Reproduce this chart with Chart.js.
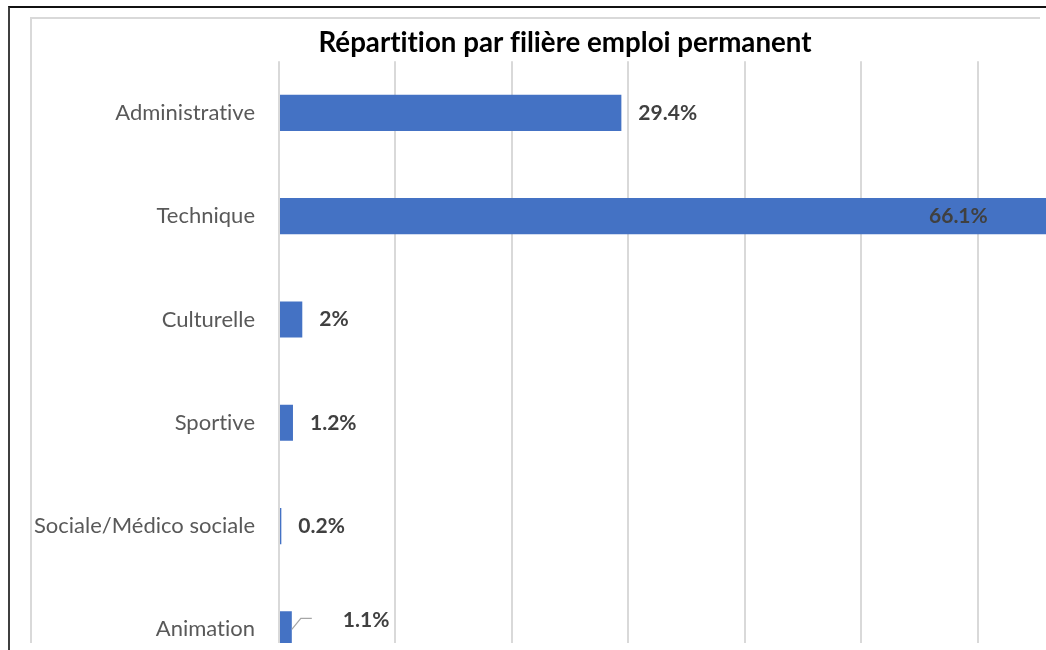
<!DOCTYPE html>
<html lang="fr">
<head>
<meta charset="utf-8">
<title>Répartition par filière emploi permanent</title>
<script src="https://cdn.jsdelivr.net/npm/chart.js@4/dist/chart.umd.min.js"></script>
<style>
  html, body { margin: 0; padding: 0; background: #fff; }
  body { width: 1046px; height: 650px; overflow: hidden; position: relative; }
  #outer {
    position: absolute; left: 8px; top: 6px; right: -20px; bottom: -20px;
    border-left: 2px solid #3f3f3f; border-top: 2px solid #111;
  }
  #clip {
    position: absolute; left: 10px; top: 8px; width: 1036px; height: 635px;
    overflow: hidden;
  }
  #inner {
    position: absolute; left: 20px; top: 9px; width: 1008px; height: 700px;
    border-left: 2px solid #d9d9d9; border-top: 2px solid #d9d9d9;
  }
  #chart { position: absolute; left: -10px; top: -8px; font-variant-ligatures: none; }
</style>
</head>
<body>
<div id="outer"></div>
<div id="clip">
  <div id="inner"></div>
  <canvas id="chart" width="1100" height="690"></canvas>
</div>
<script>
// Filières and their share of permanent jobs (%)
const categories = ['Administrative', 'Technique', 'Culturelle', 'Sportive', 'Sociale/Médico sociale', 'Animation'];
const shares = [29.4, 66.1, 2, 1.2, 0.2, 1.1];
const valueLabels = shares.map(v => v.toString() + '%');
const gridSteps = [0, 10, 20, 30, 40, 50, 60, 70];

const FONT = 'Lato, "Open Sans", sans-serif';

// Plain glyphs, no "ti"/"fi" ligatures
const noLigatures = {
  id: 'noLigatures',
  beforeDraw(chart) {
    if ('textRendering' in chart.ctx) chart.ctx.textRendering = 'optimizeSpeed';
  }
};

// Writes the percentage next to each bar; a few labels are placed by hand
const barLabels = {
  id: 'barLabels',
  afterDatasetsDraw(chart, args, opts) {
    const ctx = chart.ctx;
    const meta = chart.getDatasetMeta(0);
    ctx.save();
    ctx.font = opts.font;
    ctx.fillStyle = opts.color;
    ctx.textBaseline = 'middle';
    meta.data.forEach((bar, i) => {
      const o = (opts.overrides && opts.overrides[i]) || {};
      const dx = o.dx !== undefined ? o.dx : opts.gap;
      const dy = o.dy || 0;
      const x = bar.x + dx;
      const y = bar.y + dy;
      if (o.leader) {
        ctx.save();
        ctx.strokeStyle = '#a6a6a6';
        ctx.lineWidth = 1.2;
        ctx.beginPath();
        ctx.moveTo(bar.x, bar.y);
        ctx.lineTo(bar.x + 9, bar.y - 11);
        ctx.lineTo(bar.x + 20, bar.y - 11);
        ctx.stroke();
        ctx.restore();
      }
      ctx.textAlign = o.align || 'left';
      ctx.fillText(valueLabels[i], x, y);
    });
    ctx.restore();
  }
};

new Chart(document.getElementById('chart'), {
  type: 'bar',
  data: {
    labels: categories,
    datasets: [{
      data: shares,
      backgroundColor: '#4472C4',
      borderWidth: 0,
      categoryPercentage: 1,
      barPercentage: 0.35
    }]
  },
  options: {
    indexAxis: 'y',
    responsive: false,
    animation: false,
    events: [],
    layout: { padding: { left: 30, right: 0, top: 0, bottom: 9 } },
    scales: {
      x: {
        min: 0,
        max: 70.5,
        afterBuildTicks(scale) { scale.ticks = gridSteps.map(v => ({ value: v })); },
        afterFit(scale) {
          scale.height = 0;
          scale.paddingLeft = scale.paddingRight = 0;
        },
        ticks: { display: false },
        grid: { color: '#d9d9d9', lineWidth: 2, drawTicks: false },
        border: { display: false }
      },
      y: {
        afterFit(scale) {
          scale.width = 249;
          scale.paddingTop = scale.paddingBottom = 0;
        },
        grid: { display: false, drawTicks: false },
        border: { display: false },
        ticks: {
          autoSkip: false,
          padding: 24,
          color: '#595959',
          font: { family: FONT, size: 22 }
        }
      }
    },
    plugins: {
      legend: { display: false },
      tooltip: { enabled: false },
      title: {
        display: true,
        text: 'Répartition par filière emploi permanent',
        color: '#000',
        font: { family: FONT, size: 27.7, weight: 'bold', lineHeight: 1.2 },
        padding: { top: 26, bottom: 2 }
      },
      barLabels: {
        font: 'bold 21px ' + FONT,
        color: '#404040',
        gap: 17,
        overrides: {
          1: { dx: -61, align: 'right' },
          5: { dx: 51, dy: -9, leader: true }
        }
      }
    }
  },
  plugins: [noLigatures, barLabels]
});
</script>
</body>
</html>
